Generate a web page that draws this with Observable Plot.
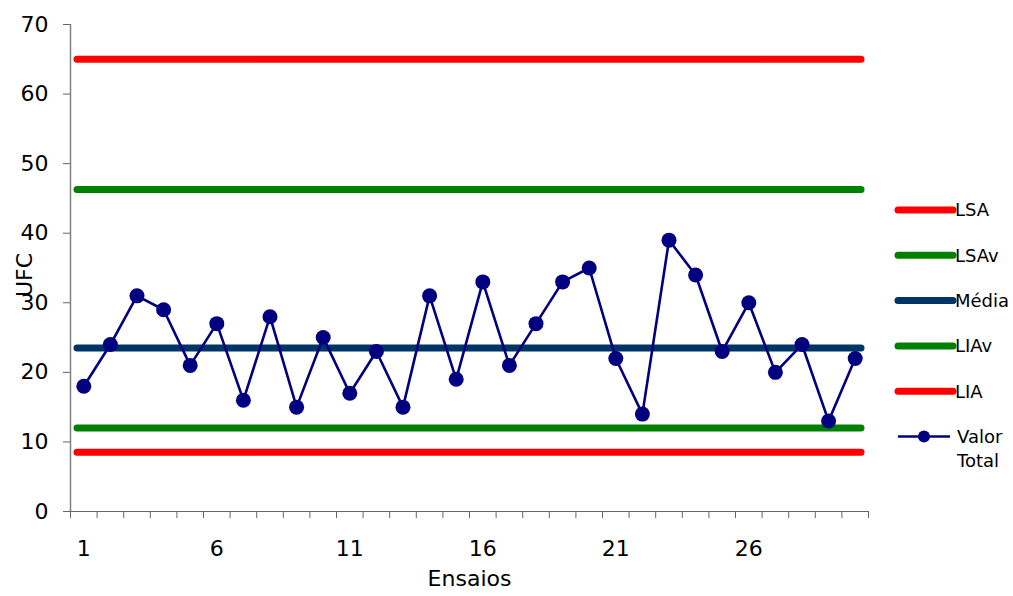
<!DOCTYPE html>
<html>
<head>
<meta charset="utf-8">
<script src="https://cdn.jsdelivr.net/npm/d3@7"></script>
<script src="https://cdn.jsdelivr.net/npm/@observablehq/plot@0.6"></script>
<style>
  html, body { margin: 0; padding: 0; background: #fff; }
  #wrap { position: relative; width: 1013px; height: 596px; font-family: "DejaVu Sans", sans-serif; }
  #legend { position: absolute; left: 0; top: 0; pointer-events: none; }
</style>
</head>
<body>
<div id="wrap"></div>
<script>
// ---- data ----
const ensaios = [1,2,3,4,5,6,7,8,9,10,11,12,13,14,15,16,17,18,19,20,21,22,23,24,25,26,27,28,29,30];
const valorTotal = [18,24,31,29,21,27,16,28,15,25,17,23,15,31,19,33,21,27,33,35,22,14,39,34,23,30,20,24,13,22];
const limitNames = ["LSA", "LSAv", "Média", "LIAv", "LIA"];
const limitValues = [65, 46.3, 23.5, 12, 8.5];
const limitColors = ["#ff0000", "#008000", "#003366", "#008000", "#ff0000"];
const seriesName = ["Valor", "Total"];
const seriesColor = "#000080";
const xLabelTicks = [1, 6, 11, 16, 21, 26];
const yTicks = [0, 10, 20, 30, 40, 50, 60, 70];
const xTitle = "Ensaios";
const yTitle = "UFC";

// ---- derived tables ----
const points = ensaios.map((e, i) => ({x: e, y: valorTotal[i]}));
const limits = limitNames.map((n, i) => ({name: n, value: limitValues[i], color: limitColors[i]}));
const boundaries = [ensaios[0] - 0.5, ...ensaios.map(e => e + 0.5)];

const font = '"DejaVu Sans", sans-serif';

const chart = Plot.plot({
  width: 1013,
  height: 596,
  marginLeft: 70,
  marginRight: 145,
  marginTop: 24,
  marginBottom: 85,
  style: {fontFamily: font, fontSize: "22px", color: "#000", background: "#fff"},
  x: {domain: [boundaries[0], boundaries[boundaries.length - 1]], label: null},
  y: {domain: [0, 70], label: null},
  color: {type: "identity"},
  marks: [
    Plot.axisY({ticks: yTicks, tickSize: 7, tickPadding: 15, fontSize: 22, stroke: "#666", label: null}),
    Plot.axisX({ticks: boundaries, tickSize: 7, tickFormat: () => "", stroke: "#666", label: null}),
    Plot.axisX({ticks: xLabelTicks, tickSize: 0, tickPadding: 29, fontSize: 22, label: null}),
    Plot.ruleX([boundaries[0]], {stroke: "#808080", strokeWidth: 1.5}),
    Plot.ruleY([0], {stroke: "#666", strokeWidth: 1.2, insetLeft: -6}),
    Plot.ruleY(limits, {y: "value", stroke: "color", strokeWidth: 7, insetLeft: 7, insetRight: 7, strokeLinecap: "round"}),
    Plot.line(points, {x: "x", y: "y", stroke: seriesColor, strokeWidth: 2.6}),
    Plot.dot(points, {x: "x", y: "y", r: 7.5, fill: seriesColor}),
    Plot.text([xTitle], {frameAnchor: "bottom", dy: 74, fontSize: 22, fill: "#000"}),
    Plot.text([yTitle], {frameAnchor: "left", dx: -46, dy: 29, rotate: -90, fontSize: 22, fill: "#000"})
  ]
});

const wrap = document.getElementById("wrap");
wrap.appendChild(chart);

// ---- legend ----
const leg = d3.select(wrap).append("svg")
  .attr("id", "legend")
  .attr("width", 1013).attr("height", 596)
  .style("font-family", font);

const legX0 = 898, legX1 = 953, legTextX = 955, legY0 = 210, legStep = 45.3;
limits.forEach((d, i) => {
  const y = legY0 + i * legStep;
  leg.append("line").attr("x1", legX0).attr("x2", legX1).attr("y1", y).attr("y2", y)
    .attr("stroke", d.color).attr("stroke-width", 7).attr("stroke-linecap", "round");
  leg.append("text").attr("x", legTextX).attr("y", y).attr("dy", "0.35em")
    .attr("font-size", 18).attr("fill", "#000").text(d.name);
});
const vy = legY0 + limits.length * legStep;
leg.append("line").attr("x1", legX0).attr("x2", legX1 - 3).attr("y1", vy).attr("y2", vy)
  .attr("stroke", seriesColor).attr("stroke-width", 2.5);
leg.append("circle").attr("cx", (legX0 + legX1 - 3) / 2).attr("cy", vy).attr("r", 6).attr("fill", seriesColor);
seriesName.forEach((t, i) => {
  leg.append("text").attr("x", legTextX + 2).attr("y", vy + i * 24).attr("dy", "0.35em")
    .attr("font-size", 18).attr("fill", "#000").text(t);
});
</script>
</body>
</html>
